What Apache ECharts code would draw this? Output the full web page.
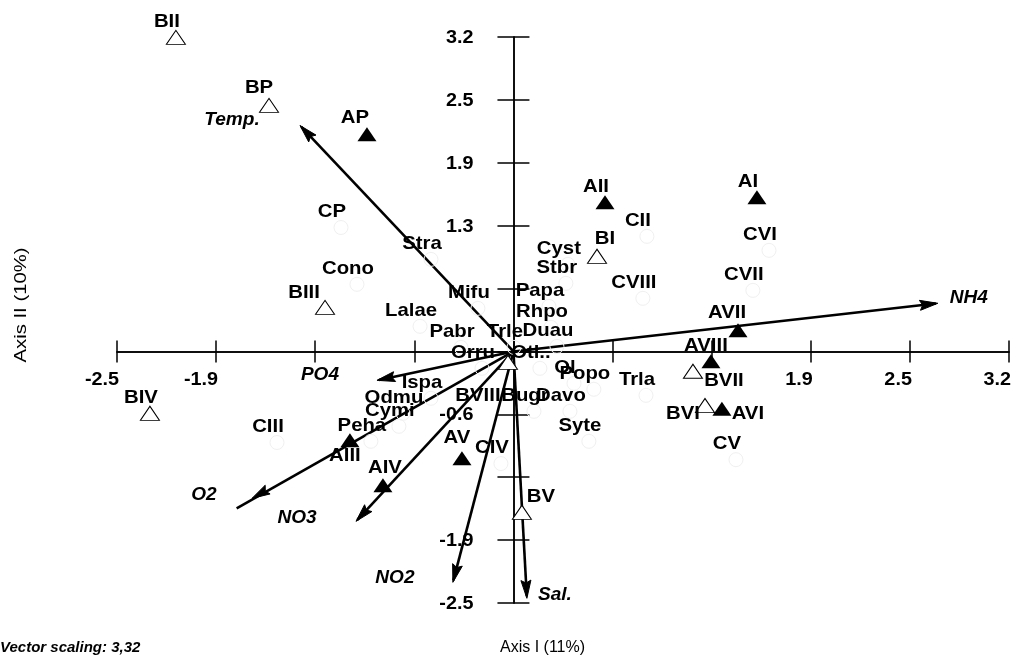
<!DOCTYPE html>
<html>
<head>
<meta charset="utf-8">
<script src="https://cdn.jsdelivr.net/npm/echarts@6/dist/echarts.min.js"></script>
<style>html,body{margin:0;padding:0;background:#fff}#chart{width:1013px;height:656px}</style>
</head>
<body>
<div id="chart"></div>
<script>
// ---- tick labels (axes run from -4 to +5 steps of 1.9/3) ----
const tickStep = 1.9 / 3;
const xTickLabels = ["-2.5", "-1.9", "-1.3", "-0.6", "0", "0.6", "1.3", "1.9", "2.5", "3.2"];
const xTickShown  = [1, 1, 0, 0, 0, 0, 0, 1, 1, 1];
const yTickLabels = ["-2.5", "-1.9", "-1.3", "-0.6", "0", "0.6", "1.3", "1.9", "2.5", "3.2"];
const yTickShown  = [1, 1, 0, 1, 0, 0, 1, 1, 1, 1];

// ---- sites, group A (filled triangles) ----
const siteANames = ["AI", "AII", "AP", "AIII", "AIV", "AV", "AVI", "AVII", "AVIII"];
const siteAX = [1.556, 0.585, -0.936, -1.045, -0.834, -0.329, 1.332, 1.435, 1.262];
const siteAY = [1.552, 1.502, 2.187, -0.895, -1.348, -1.076, -0.576, 0.213, -0.099];

// ---- sites, group B (open triangles) ----
const siteBNames = ["BI", "BII", "BP", "BIII", "BIV", "BV", "BVI", "BVII", "BVIII"];
const siteBX = [0.534, -2.157, -1.562, -1.204, -2.323, 0.054, 1.224, 1.147, -0.035];
const siteBY = [0.958, 3.163, 2.478, 0.444, -0.623, -1.620, -0.545, -0.200, -0.110];

// ---- sites, group C (white markers) ----
const siteCNames = ["CP", "CII", "CIII", "CIV", "CV", "CVI", "CVII", "CVIII"];
const siteCX = [-1.102, 0.853, -1.511, -0.080, 1.422, 1.633, 1.530, 0.827];
const siteCY = [1.248, 1.159, -0.917, -1.129, -1.090, 1.018, 0.615, 0.535];

// ---- species ----
const speciesNames = ["Stra", "Cono", "Mifu", "Lalae", "Pabr", "Trle", "Duau", "Papa", "Rhpo", "Cyst", "Stbr",
  "Orru", "Otl..", "Ispa", "Odmu", "Cymi", "Peha", "Bugr", "Davo", "Popo", "Ol", "Syte", "Trla"];
const speciesX = [-0.527, -1.000, -0.227, -0.597, -0.335, 0.003, 0.278, 0.227, 0.240, 0.348, 0.335,
  -0.201, 0.169, -0.527, -0.706, -0.732, -0.911, 0.131, 0.361, 0.514, 0.387, 0.482, 0.847];
const speciesY = [0.927, 0.676, 0.434, 0.253, 0.041, 0.041, 0.051, 0.454, 0.243, 0.877, 0.686,
  -0.170, -0.170, -0.472, -0.623, -0.754, -0.905, -0.603, -0.603, -0.381, -0.321, -0.905, -0.442];

// ---- environmental vectors ----
const envNames = ["Temp.", "NH4", "PO4", "O2", "NO3", "NO2", "Sal."];
const envTipX = [-1.364, 2.712, -0.872, -1.671, -1.006, -0.387, 0.086];
const envTipY = [2.276, 0.485, -0.291, -1.480, -1.711, -2.325, -2.486];
const envEndX = [-1.364, 2.712, -0.872, -1.780, -1.006, -0.387, 0.086];
const envEndY = [2.276, 0.485, -0.291, -1.591, -1.711, -2.325, -2.486];

// ---- label placement (pixels, relative to marker) ----
const defaultLabelOffset = [-9, -16];
const labelOffsets = {
  BP: [-10, -18], AP: [-12, -17], BI: [8, -18], BIII: [-21, -15], AVII: [-11, -18],
  AVIII: [-5, -16], BVII: [31, 9], BVI: [-22, 8], AVI: [26, 5], AIII: [-5, 15],
  BV: [19, -16], AV: [-5, -21], AIV: [2, -18], BVIII: [-30, 33]
};
const envLabelOffsets = {
  "Temp.": [-68, -5], NH4: [31, -5], PO4: [-57, -5], O2: [-48, -3],
  NO3: [-59, -3], NO2: [-58, -4], "Sal.": [28, -3]
};

const FONT = "'Liberation Sans', Arial, sans-serif";

function pts(names, xs, ys) {
  return names.map((n, i) => ({ name: n, value: [xs[i], ys[i]] }));
}

const labelNames = [].concat(siteANames, siteBNames, siteCNames, speciesNames);
const labelX = [].concat(siteAX, siteBX, siteCX, speciesX);
const labelY = [].concat(siteAY, siteBY, siteCY, speciesY);

const axisCommon = {
  type: 'value',
  min: -4 * tickStep,
  max: 5 * tickStep,
  interval: tickStep,
  splitLine: { show: false },
  axisLabel: { show: false },
  axisLine: { show: true, onZero: true, onZeroAxisIndex: 0, lineStyle: { color: '#000', width: 1.5 } }
};
const xTick = { show: true, inside: false, length: 11, lineStyle: { color: '#000', width: 1.5 } };
const yTick = { show: true, inside: false, length: 16, lineStyle: { color: '#000', width: 1.5 } };

const chart = echarts.init(document.getElementById('chart'), null, { renderer: 'canvas' });

function textEl(txt, px, py, font, align, sx) {
  return {
    type: 'text', x: px, y: py, scaleX: sx,
    style: { text: txt, x: 0, y: 0, align: align, verticalAlign: 'middle', font: font, fill: '#000' }
  };
}

const option = {
  backgroundColor: '#fff',
  animation: false,
  grid: { left: 117, right: 4, top: 37, bottom: 53, containLabel: false },
  xAxis: [
    Object.assign({}, axisCommon, { position: 'bottom', axisTick: xTick }),
    Object.assign({}, axisCommon, { position: 'top', axisTick: xTick })
  ],
  yAxis: [
    Object.assign({}, axisCommon, { position: 'left', axisTick: yTick }),
    Object.assign({}, axisCommon, { position: 'right', axisTick: yTick })
  ],
  graphic: [
    { type: 'text', left: 0, top: 640, style: { text: 'Vector scaling: 3,32', font: 'italic bold 15px ' + FONT, fill: '#000' } },
    { type: 'text', left: 500, top: 640, style: { text: 'Axis I (11%)', font: '16px ' + FONT, fill: '#000' } },
    { type: 'text', x: 22, y: 305, rotation: Math.PI / 2, scaleX: 1.27,
      style: { text: 'Axis II (10%)', x: 0, y: 0, align: 'center', verticalAlign: 'middle', font: '16px ' + FONT, fill: '#000' } }
  ],
  series: [
    {
      // environmental arrows
      type: 'custom', z: 3, clip: false, silent: true,
      data: envNames.map((n, i) => [envTipX[i], envTipY[i], envEndX[i], envEndY[i]]),
      renderItem: function (params, api) {
        const n = envNames[params.dataIndex];
        const o = api.coord([0, 0]);
        const t = api.coord([api.value(0), api.value(1)]);
        const e = api.coord([api.value(2), api.value(3)]);
        const dx = t[0] - o[0], dy = t[1] - o[1];
        const L = Math.hypot(dx, dy);
        const ux = dx / L, uy = dy / L;
        const hl = 18, hw = 5;
        const bx = t[0] - ux * hl, by = t[1] - uy * hl;
        const off = envLabelOffsets[n] || [0, 0];
        return {
          type: 'group',
          children: [
            { type: 'line', shape: { x1: o[0], y1: o[1], x2: e[0] - ux * 2, y2: e[1] - uy * 2 },
              style: { stroke: '#000', lineWidth: 2.6 } },
            { type: 'polygon', shape: { points: [t, [bx - uy * hw, by + ux * hw], [t[0] - ux * hl * 0.85, t[1] - uy * hl * 0.85], [bx + uy * hw, by - ux * hw]] },
              style: { fill: '#000', stroke: '#000', lineWidth: 1 } },
            textEl(n, t[0] + off[0], t[1] + off[1], 'italic bold 18px ' + FONT, 'center', 1.06)
          ]
        };
      }
    },
    {
      name: 'species', type: 'scatter', z: 4, silent: true,
      symbol: 'circle', symbolSize: 14,
      itemStyle: { color: 'rgba(255,255,255,0)', borderColor: '#f0f0f0', borderWidth: 1, opacity: 1 },
      data: pts(speciesNames, speciesX, speciesY)
    },
    {
      name: 'sitesC', type: 'scatter', z: 4, silent: true,
      symbol: 'circle', symbolSize: 14,
      itemStyle: { color: 'rgba(255,255,255,0)', borderColor: '#f0f0f0', borderWidth: 1, opacity: 1 },
      data: pts(siteCNames, siteCX, siteCY)
    },
    {
      name: 'sitesB', type: 'scatter', z: 5, silent: true,
      symbol: 'triangle', symbolSize: [19, 14],
      itemStyle: { color: '#fff', borderColor: '#000', borderWidth: 1, opacity: 1 },
      data: pts(siteBNames, siteBX, siteBY)
    },
    {
      name: 'sitesA', type: 'scatter', z: 5, silent: true,
      symbol: 'triangle', symbolSize: [19, 14],
      itemStyle: { color: '#000', opacity: 1 },
      data: pts(siteANames, siteAX, siteAY)
    },
    {
      // point labels
      type: 'custom', z: 10, clip: false, silent: true,
      data: labelNames.map((n, i) => [labelX[i], labelY[i]]),
      renderItem: function (params, api) {
        const n = labelNames[params.dataIndex];
        const p = api.coord([api.value(0), api.value(1)]);
        const off = labelOffsets[n] || defaultLabelOffset;
        return textEl(n, p[0] + off[0], p[1] + off[1], 'bold 19px ' + FONT, 'center', 1.07);
      }
    },
    {
      // x tick labels
      type: 'custom', z: 9, clip: false, silent: true,
      data: xTickLabels.map((l, i) => [(i - 4) * tickStep, 0]),
      renderItem: function (params, api) {
        const i = params.dataIndex;
        if (!xTickShown[i]) return null;
        const p = api.coord([api.value(0), api.value(1)]);
        return textEl(xTickLabels[i], p[0] + 2, p[1] + 29, 'bold 18px ' + FONT, 'right', 1.1);
      }
    },
    {
      // y tick labels
      type: 'custom', z: 9, clip: false, silent: true,
      data: yTickLabels.map((l, i) => [0, (i - 4) * tickStep]),
      renderItem: function (params, api) {
        const i = params.dataIndex;
        if (!yTickShown[i]) return null;
        const p = api.coord([api.value(0), api.value(1)]);
        return textEl(yTickLabels[i], p[0] - 40, p[1] + 1, 'bold 18px ' + FONT, 'right', 1.1);
      }
    }
  ]
};
chart.setOption(option);
</script>
</body>
</html>
